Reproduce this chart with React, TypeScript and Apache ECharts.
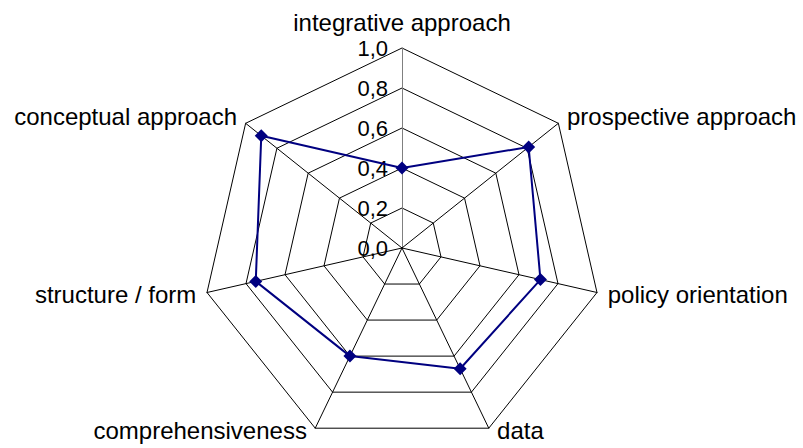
import React, { useEffect, useRef } from "react";
import * as echarts from "echarts";

// Indicators listed counter-clockwise starting from the top (ECharts radar order)
const categories = [
  "integrative approach",
  "conceptual approach",
  "structure / form",
  "comprehensiveness",
  "data",
  "policy orientation",
  "prospective approach",
];
const values = [0.4, 0.9, 0.75, 0.6, 0.67, 0.71, 0.81];
const axisMax = 1.0;

export default function App() {
  const ref = useRef<HTMLDivElement>(null);
  useEffect(() => {
    if (!ref.current) return;
    const chart = echarts.init(ref.current, null, { renderer: "svg" });
    const nameFont = {
      color: "#000000",
      fontSize: 24,
      fontFamily: "Liberation Sans, Arial, sans-serif",
    };
    const indicator = categories.map((name, i) => {
      const ind: any = {
        name,
        min: 0,
        max: axisMax,
        nameGap: i === 0 ? 14 : i === 3 || i === 4 ? 3 : 11,
        axisLabel: { show: i === 0 },
      };
      if (i === 0) ind.axisLine = { lineStyle: { color: "#808080", width: 1 } };
      if (i === 3) ind.nameTextStyle = { ...nameFont, padding: [0, 7, 0, 0] };
      if (i === 4) ind.nameTextStyle = { ...nameFont, padding: [0, 0, 0, 7] };
      return ind;
    });
    chart.setOption({
      animation: false,
      backgroundColor: "#ffffff",
      radar: {
        center: [402, 248],
        radius: 200,
        startAngle: 90,
        shape: "polygon",
        splitNumber: 5,
        indicator,
        axisName: nameFont,
        axisLine: { show: true, lineStyle: { color: "#000000", width: 1 } },
        splitLine: { show: true, lineStyle: { color: "#000000", width: 1 } },
        splitArea: { show: false },
        axisTick: { show: false },
        axisLabel: {
          show: true,
          color: "#000000",
          fontSize: 22,
          fontFamily: "Liberation Sans, Arial, sans-serif",
          margin: 14,
          formatter: (v: number) => v.toFixed(1).replace(".", ","),
        },
      },
      series: [
        {
          type: "radar",
          symbol: "diamond",
          symbolSize: 13,
          lineStyle: { color: "#000080", width: 2 },
          itemStyle: { color: "#000080" },
          data: [{ value: values, name: "score" }],
        },
      ],
    });
    return () => chart.dispose();
  }, []);
  return (
    <div
      ref={ref}
      style={{ position: "fixed", left: 0, top: 0, width: 803, height: 448 }}
    />
  );
}
